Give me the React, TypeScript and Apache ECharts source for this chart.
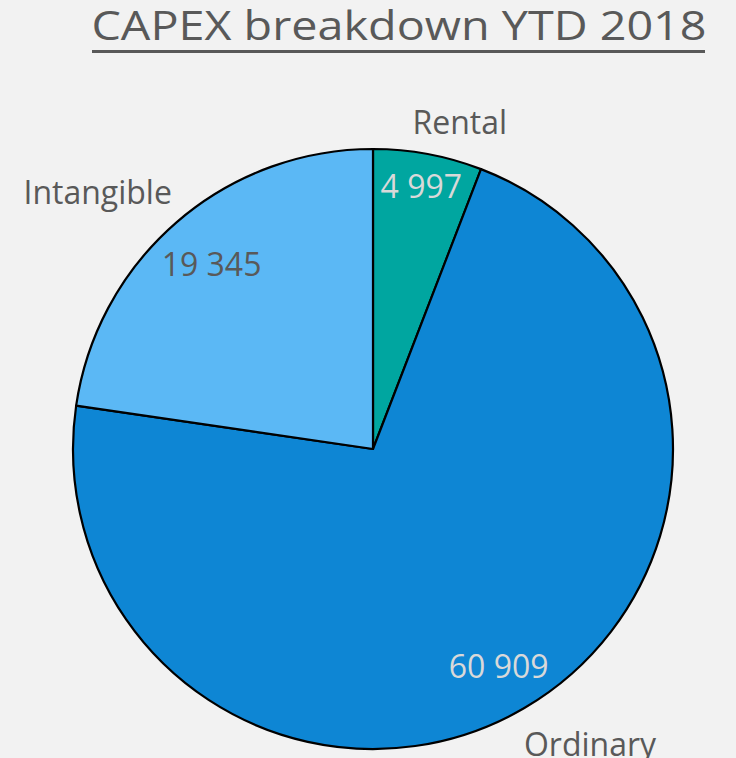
import React, { useEffect, useRef } from "react";
import * as echarts from "echarts";

const titleText = "CAPEX breakdown YTD 2018";
const categories = ["Rental", "Ordinary", "Intangible"];
const values = [4997, 60909, 19345];
const sliceColors = ["#00A6A0", "#0E86D4", "#5BB8F5"];
const valueLabelColors = ["#D9D9D9", "#D9D9D9", "#595959"];
const valueOffsets = [[2, -15], [-2, -2], [4, 6]];
const nameOffsets = [[24, 10], [44, -2], [-51, 2]];

const fmt = (v: number) => {
  const s = String(v);
  return s.replace(/\B(?=(\d{3})+(?!\d))/g, " ");
};

export default function App() {
  const ref = useRef<HTMLDivElement>(null);
  useEffect(() => {
    document.body.style.margin = "0";
    const chart = echarts.init(ref.current!, null, { renderer: "svg" });
    const font = "'Open Sans', sans-serif";
    const center = [373, 449];
    chart.setOption({
      animation: false,
      backgroundColor: "#F2F2F2",
      graphic: [
        {
          type: "text",
          x: 399,
          y: 24,
          scaleX: 1.14,
          style: {
            text: titleText,
            fontFamily: font,
            fontSize: 41,
            fill: "#595959",
            textAlign: "center",
            textVerticalAlign: "middle",
          },
        },
        {
          type: "rect",
          shape: { x: 92, y: 50, width: 613, height: 3 },
          style: { fill: "#595959" },
        },
      ],
      series: [
        {
          type: "pie",
          center,
          radius: [0, 300],
          startAngle: 90,
          clockwise: true,
          silent: true,
          avoidLabelOverlap: false,
          label: { show: false },
          labelLine: { show: false },
          itemStyle: { borderColor: "#000", borderWidth: 2.2 },
          data: categories.map((c, i) => ({
            name: c,
            value: values[i],
            itemStyle: { color: sliceColors[i] },
          })),
        },
        {
          type: "pie",
          center,
          radius: [245, 255],
          startAngle: 90,
          clockwise: true,
          silent: true,
          avoidLabelOverlap: false,
          labelLine: { show: false },
          itemStyle: { color: "transparent", borderWidth: 0 },
          data: categories.map((c, i) => ({
            name: c,
            value: values[i],
            label: {
              show: true,
              position: "inside",
              formatter: fmt(values[i]),
              color: valueLabelColors[i],
              fontFamily: font,
              fontSize: 32,
              offset: valueOffsets[i],
            },
          })),
        },
        {
          type: "pie",
          center,
          radius: [335, 345],
          startAngle: 90,
          clockwise: true,
          silent: true,
          avoidLabelOverlap: false,
          labelLine: { show: false },
          itemStyle: { color: "transparent", borderWidth: 0 },
          data: categories.map((c, i) => ({
            name: c,
            value: values[i],
            label: {
              show: true,
              position: "inside",
              formatter: c,
              color: "#595959",
              fontFamily: font,
              fontSize: 32,
              offset: nameOffsets[i],
            },
          })),
        },
      ],
    });
    return () => chart.dispose();
  }, []);
  return (
    <div
      ref={ref}
      style={{ position: "absolute", left: 0, top: 0, width: 736, height: 758 }}
    />
  );
}
